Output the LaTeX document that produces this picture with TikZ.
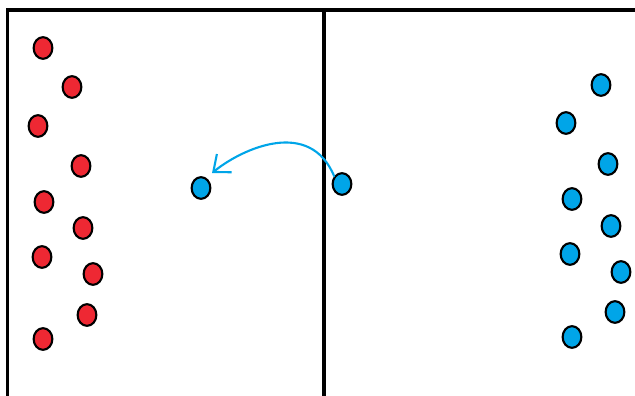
\documentclass[tikz,border=0pt]{standalone}
\usepackage{xcolor}
\usetikzlibrary{arrows.meta,shapes.geometric}
\definecolor{dotred}{HTML}{EE2833}
\definecolor{dotblue}{HTML}{00A5E8}

\begin{document}
\begin{tikzpicture}[x=0.03cm,y=-0.03cm,
  dot/.style={ellipse,draw=black,line width=1.8pt,minimum width=16pt,minimum height=18.5pt,inner sep=0pt},
  reddot/.style={dot,fill=dotred},
  bluedot/.style={dot,fill=dotblue}]
  \useasboundingbox (0,0) rectangle (635,396);

  % field lines
  \draw[line width=2.9pt] (7.5,396) -- (7.5,10) -- (635,10);
  \draw[line width=2.9pt] (324,10) -- (324,396);

  % left team
  \foreach \x/\y [count=\i] in {
    43/48, 72/87, 38/126, 81/166, 44/202,
    83/228, 42/257, 93/274, 87/315, 43/339
  } {
    \node[reddot] (red\i) at (\x,\y) {};
  }

  % right team
  \foreach \x/\y [count=\i] in {
    601/85, 566/123, 608/164, 572/199, 611/226,
    570/254, 621/272, 615/312, 572/337
  } {
    \node[bluedot] (blue\i) at (\x,\y) {};
  }

  % player crossing over
  \node[bluedot] (runner) at (342,184) {};
  \node[bluedot] (target) at (201,188) {};
  \draw[dotblue,line width=1.8pt,line cap=round,
        -{Straight Barb[length=12pt,width=20pt,line width=1.8pt]}]
    (runner.135) .. controls (310,118) and (243,148) .. ([shift={(11,-15)}]target.center);
\end{tikzpicture}
\end{document}
